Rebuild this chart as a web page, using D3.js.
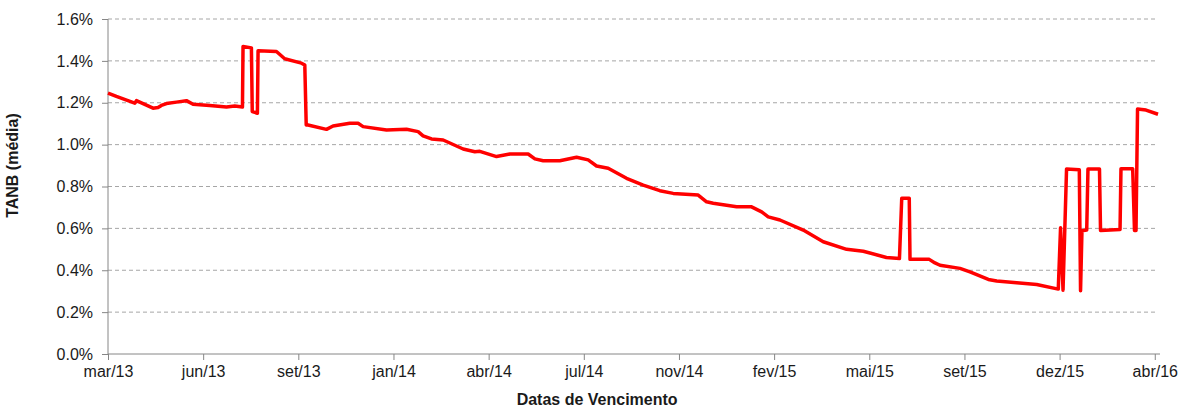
<!DOCTYPE html>
<html>
<head>
<meta charset="utf-8">
<script src="https://cdn.jsdelivr.net/npm/d3@7"></script>
<style>
  body { margin: 0; background: #fff; }
  text { font-family: "Liberation Sans", Arial, sans-serif; }
</style>
</head>
<body>
<div id="chart"></div>
<script>
// x positions in units of the (evenly spaced) category ticks, 0 = mar/13
var xPos = [0.000, 0.088, 0.281, 0.299, 0.473, 0.526, 0.561, 0.614, 0.719, 0.824, 0.894, 1.069, 1.245, 1.332, 1.413,
    1.419, 1.507, 1.516, 1.570, 1.577, 1.770, 1.857, 2.033, 2.068, 2.083, 2.102, 2.296, 2.365, 2.541, 2.628, 2.681,
    2.927, 3.137, 3.259, 3.311, 3.400, 3.522, 3.732, 3.855, 3.907, 4.083, 4.223, 4.415, 4.486, 4.573, 4.748, 4.924,
    5.046, 5.134, 5.256, 5.449, 5.624, 5.799, 5.939, 6.202, 6.290, 6.360, 6.606, 6.763, 6.869, 6.938, 7.061, 7.306,
    7.516, 7.762, 7.937, 8.180, 8.317, 8.341, 8.420, 8.428, 8.630, 8.690, 8.743, 8.953, 9.058, 9.251, 9.339, 9.549,
    9.759, 9.986, 10.010, 10.036, 10.073, 10.207, 10.220, 10.235, 10.285, 10.298, 10.419, 10.430, 10.635, 10.645,
    10.768, 10.787, 10.803, 10.819, 10.908, 11.034];

// TANB (média), %
var tanb = [1.246, 1.23, 1.198, 1.21, 1.174, 1.177, 1.187, 1.196, 1.203, 1.21, 1.193, 1.187, 1.18, 1.185, 1.18,
    1.469, 1.462, 1.158, 1.15, 1.448, 1.445, 1.41, 1.389, 1.38, 1.094, 1.094, 1.073, 1.089, 1.102, 1.102, 1.086,
    1.07, 1.073, 1.062, 1.042, 1.027, 1.022, 0.979, 0.966, 0.968, 0.943, 0.955, 0.955, 0.932, 0.923, 0.923, 0.94,
    0.927, 0.898, 0.887, 0.839, 0.807, 0.78, 0.767, 0.759, 0.727, 0.72, 0.703, 0.703, 0.679, 0.655, 0.64, 0.592,
    0.536, 0.5, 0.491, 0.461, 0.456, 0.744, 0.744, 0.452, 0.452, 0.435, 0.424, 0.409, 0.392, 0.356, 0.349, 0.34,
    0.332, 0.31, 0.603, 0.305, 0.884, 0.88, 0.302, 0.589, 0.592, 0.884, 0.884, 0.59, 0.595, 0.885,
    0.885, 0.59, 0.59, 1.17, 1.165, 1.145];

var tickLabels = ["mar/13", "jun/13", "set/13", "jan/14", "abr/14", "jul/14", "nov/14",
    "fev/15", "mai/15", "set/15", "dez/15", "abr/16"];
var yTicks = [0, 0.2, 0.4, 0.6, 0.8, 1.0, 1.2, 1.4, 1.6];

var W = 1181, H = 410;
var margin = { top: 19, right: 21, bottom: 56, left: 108 },
    width = W - margin.left - margin.right,
    height = H - margin.top - margin.bottom;

var svg = d3.select("#chart").append("svg")
    .attr("width", W)
    .attr("height", H)
    .append("g")
    .attr("transform", "translate(" + margin.left + "," + margin.top + ")");

var x = d3.scaleLinear().domain([0, 11.055]).range([0, width]);
var y = d3.scaleLinear().domain([0, 1.6]).range([height, 0]);

// gridlines
svg.append("g").selectAll("line")
    .data(yTicks.filter(function (d) { return d > 0; }))
    .enter().append("line")
    .attr("x1", 0).attr("x2", x(11.03))
    .attr("y1", function (d) { return y(d); })
    .attr("y2", function (d) { return y(d); })
    .attr("stroke", "#a6a6a6")
    .attr("stroke-dasharray", "4,3")
    .attr("stroke-width", 1);

// y axis
var yAxis = d3.axisLeft(y).tickValues(yTicks).tickSize(6).tickPadding(9)
    .tickFormat(function (d) { return d.toFixed(1) + "%"; });
var gy = svg.append("g").call(yAxis);
gy.select(".domain").attr("stroke", "#868686").attr("d", "M0," + height + "V0");
gy.selectAll(".tick line").attr("stroke", "#868686");
gy.selectAll("text").attr("font-size", 16).attr("fill", "#1a1a1a")
    .attr("font-family", "Liberation Sans, Arial, sans-serif");

// x axis
var xAxis = d3.axisBottom(x).tickValues(d3.range(tickLabels.length)).tickSize(6).tickPadding(6)
    .tickFormat(function (d) { return tickLabels[d]; });
var gx = svg.append("g").attr("transform", "translate(0," + height + ")").call(xAxis);
gx.select(".domain").attr("stroke", "#868686").attr("d", "M0,0H" + width);
gx.selectAll(".tick line").attr("stroke", "#868686");
gx.selectAll("text").attr("font-size", 16).attr("fill", "#1a1a1a")
    .attr("font-family", "Liberation Sans, Arial, sans-serif");

// line
var pts = xPos.map(function (d, i) { return [d, tanb[i]]; });
var line = d3.line()
    .x(function (d) { return x(d[0]); })
    .y(function (d) { return y(d[1]); });

svg.append("path")
    .datum(pts)
    .attr("d", line)
    .attr("fill", "none")
    .attr("stroke", "#ff0000")
    .attr("stroke-width", 3.5)
    .attr("stroke-linejoin", "round");

// axis titles
svg.append("text")
    .attr("transform", "translate(" + (-90) + "," + (y(0.9)) + ") rotate(-90)")
    .attr("text-anchor", "middle")
    .attr("font-size", 16)
    .attr("font-weight", "bold")
    .attr("fill", "#1a1a1a")
    .text("TANB (média)");

svg.append("text")
    .attr("x", x(5.14))
    .attr("y", height + 51)
    .attr("text-anchor", "middle")
    .attr("font-size", 16)
    .attr("font-weight", "bold")
    .attr("fill", "#1a1a1a")
    .text("Datas de Vencimento");
</script>
</body>
</html>
